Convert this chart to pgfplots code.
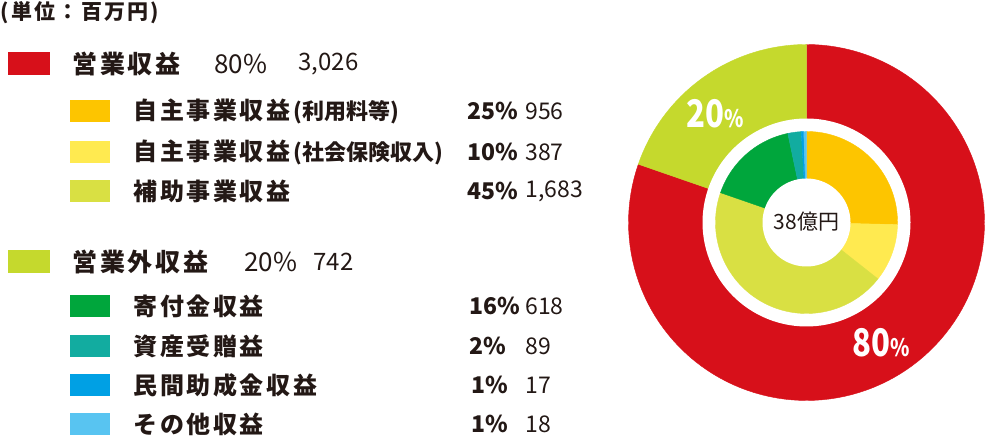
\documentclass[border=0pt]{standalone}
\usepackage{pgfplots}
\usepackage{pgfplotstable}
\usepackage{graphicx}
\usepackage{fontspec}
\pgfplotsset{compat=1.18}
\setmainfont{Noto Sans CJK JP}
\newfontfamily\jp{Noto Sans CJK JP}[LetterSpace=11]
\newfontfamily\jpn{Noto Sans CJK JP}
\definecolor{txt}{HTML}{231815}
\definecolor{cRed}{HTML}{D7101A}
\definecolor{cOuterG}{HTML}{C5D92D}
\definecolor{cOrange}{HTML}{FDC500}
\definecolor{cLYellow}{HTML}{FFEA50}
\definecolor{cYG}{HTML}{D9E043}
\definecolor{cGreen}{HTML}{00A63C}
\definecolor{cTeal}{HTML}{12ACA0}
\definecolor{cBlue}{HTML}{00A0E4}
\definecolor{cLBlue}{HTML}{58C4F1}

\pgfplotstableread{
value color
3026 cRed
742 cOuterG
}\outerdata
\pgfplotstableread{
value color
956 cOrange
387 cLYellow
1683 cYG
618 cGreen
89 cTeal
17 cBlue
18 cLBlue
}\innerdata

\def\total{3768}
\def\cx{806.5}
\def\cy{214.5}

% draw a ring of sectors from a table
\newcommand\drawring[3]{% table, nrows-1, radius
  \def\cum{0}%
  \pgfplotsforeachungrouped \i in {0,...,#2} {%
    \pgfplotstablegetelem{\i}{value}\of#1\let\myval\pgfplotsretval
    \pgfplotstablegetelem{\i}{color}\of#1\let\mycol\pgfplotsretval
    \pgfmathsetmacro\aS{90-360*(\cum/\total)}%
    \pgfmathsetmacro\cum{\cum+\myval}%
    \pgfmathsetmacro\aE{90-360*(\cum/\total)}%
    \edef\temp{\noexpand\addplot[fill=\mycol, draw=\mycol, line width=0.2pt, domain=\aE:\aS, samples=120]
      ({\cx+#3*cos(x)},{\cy+#3*sin(x)}) -- (axis cs:\cx,\cy) -- cycle;}%
    \temp
  }%
}
\newcommand\whitedisk[1]{%
  \addplot[fill=white, draw=none, domain=0:360, samples=150] ({\cx+#1*cos(x)},{\cy+#1*sin(x)}) -- cycle;
}

\begin{document}
\begin{tikzpicture}
\begin{axis}[x=0.5pt, y=0.5pt, xmin=0, xmax=985, ymin=0, ymax=437,
  hide axis, clip=false]
\path (axis cs:0,0) rectangle (axis cs:985,437);

% donut
\drawring{\outerdata}{1}{178}
\whitedisk{104}
\drawring{\innerdata}{6}{91}
\whitedisk{44}

% center + ring labels
\node[text=txt, font=\jpn\fontsize{10.5pt}{12pt}\selectfont] at (axis cs:806.5,215) {38億円};
\node[text=white, anchor=center] at (axis cs:715,323) {\scalebox{0.82}[1]{\jpn\bfseries\fontsize{19pt}{20pt}\selectfont 20}\scalebox{0.82}[1]{\jpn\bfseries\fontsize{12pt}{13pt}\selectfont \%}};
\node[text=white, anchor=center] at (axis cs:881,94) {\scalebox{0.82}[1]{\jpn\bfseries\fontsize{19pt}{20pt}\selectfont 80}\scalebox{0.82}[1]{\jpn\bfseries\fontsize{12pt}{13pt}\selectfont \%}};

% title
\node[text=txt, anchor=west, inner sep=0pt, font=\jp\bfseries\fontsize{10.5pt}{12pt}\selectfont] at (axis cs:0,424) {(単位：百万円)};

% heading 1
\fill[cRed] (axis cs:8,385) rectangle (axis cs:50,362);
\node[text=txt, anchor=west, inner sep=0pt, font=\jp\bfseries\fontsize{12.5pt}{14pt}\selectfont] at (axis cs:72,373) {営業収益};
\node[text=txt, anchor=west, inner sep=0pt, font=\jpn\fontsize{13pt}{14pt}\selectfont] at (axis cs:214,373) {80\%};
\node[text=txt, anchor=west, inner sep=0pt, font=\jpn\fontsize{12pt}{14pt}\selectfont] at (axis cs:298,373) {3,026};

% sub rows 1
\fill[cOrange] (axis cs:70,337) rectangle (axis cs:110,315);
\node[text=txt, anchor=west, inner sep=0pt, font=\jp\bfseries\fontsize{12pt}{14pt}\selectfont] at (axis cs:133,326) {自主事業収益{\jpn\fontsize{11pt}{13pt}\selectfont\hspace{1.5pt}(利用料等)}};
\node[text=txt, anchor=west, inner sep=0pt, font=\jpn\bfseries\fontsize{11.5pt}{14pt}\selectfont] at (axis cs:467,326) {25\%};
\node[text=txt, anchor=west, inner sep=0pt, font=\jpn\fontsize{11.5pt}{14pt}\selectfont] at (axis cs:525,326) {956};

\fill[cLYellow] (axis cs:70,296) rectangle (axis cs:110,274);
\node[text=txt, anchor=west, inner sep=0pt, font=\jp\bfseries\fontsize{12pt}{14pt}\selectfont] at (axis cs:133,285) {自主事業収益{\jpn\fontsize{11pt}{13pt}\selectfont\hspace{1.5pt}(社会保険収入)}};
\node[text=txt, anchor=west, inner sep=0pt, font=\jpn\bfseries\fontsize{11.5pt}{14pt}\selectfont] at (axis cs:467,285) {10\%};
\node[text=txt, anchor=west, inner sep=0pt, font=\jpn\fontsize{11.5pt}{14pt}\selectfont] at (axis cs:525,285) {387};

\fill[cYG] (axis cs:70,257) rectangle (axis cs:110,235);
\node[text=txt, anchor=west, inner sep=0pt, font=\jp\bfseries\fontsize{12pt}{14pt}\selectfont] at (axis cs:133,246) {補助事業収益};
\node[text=txt, anchor=west, inner sep=0pt, font=\jpn\bfseries\fontsize{11.5pt}{14pt}\selectfont] at (axis cs:467,246) {45\%};
\node[text=txt, anchor=west, inner sep=0pt, font=\jpn\fontsize{11.5pt}{14pt}\selectfont] at (axis cs:525,246) {1,683};

% heading 2
\fill[cOuterG] (axis cs:8,187) rectangle (axis cs:50,164);
\node[text=txt, anchor=west, inner sep=0pt, font=\jp\bfseries\fontsize{12.5pt}{14pt}\selectfont] at (axis cs:72,175) {営業外収益};
\node[text=txt, anchor=west, inner sep=0pt, font=\jpn\fontsize{13pt}{14pt}\selectfont] at (axis cs:244,175) {20\%};
\node[text=txt, anchor=west, inner sep=0pt, font=\jpn\fontsize{12pt}{14pt}\selectfont] at (axis cs:313,175) {742};

% sub rows 2
\fill[cGreen] (axis cs:70,142) rectangle (axis cs:110,120);
\node[text=txt, anchor=west, inner sep=0pt, font=\jp\bfseries\fontsize{12pt}{14pt}\selectfont] at (axis cs:133,131) {寄付金収益};
\node[text=txt, anchor=west, inner sep=0pt, font=\jpn\bfseries\fontsize{11.5pt}{14pt}\selectfont] at (axis cs:469,131) {16\%};
\node[text=txt, anchor=west, inner sep=0pt, font=\jpn\fontsize{11.5pt}{14pt}\selectfont] at (axis cs:525,131) {618};

\fill[cTeal] (axis cs:70,102) rectangle (axis cs:110,80);
\node[text=txt, anchor=west, inner sep=0pt, font=\jp\bfseries\fontsize{12pt}{14pt}\selectfont] at (axis cs:133,91) {資産受贈益};
\node[text=txt, anchor=west, inner sep=0pt, font=\jpn\bfseries\fontsize{11.5pt}{14pt}\selectfont] at (axis cs:469,91) {2\%};
\node[text=txt, anchor=west, inner sep=0pt, font=\jpn\fontsize{11.5pt}{14pt}\selectfont] at (axis cs:525,91) {89};

\fill[cBlue] (axis cs:70,63) rectangle (axis cs:110,41);
\node[text=txt, anchor=west, inner sep=0pt, font=\jp\bfseries\fontsize{12pt}{14pt}\selectfont] at (axis cs:133,52) {民間助成金収益};
\node[text=txt, anchor=west, inner sep=0pt, font=\jpn\bfseries\fontsize{11.5pt}{14pt}\selectfont] at (axis cs:471,52) {1\%};
\node[text=txt, anchor=west, inner sep=0pt, font=\jpn\fontsize{11.5pt}{14pt}\selectfont] at (axis cs:525,52) {17};

\fill[cLBlue] (axis cs:70,24) rectangle (axis cs:110,2);
\node[text=txt, anchor=west, inner sep=0pt, font=\jp\bfseries\fontsize{12pt}{14pt}\selectfont] at (axis cs:133,13) {その他収益};
\node[text=txt, anchor=west, inner sep=0pt, font=\jpn\bfseries\fontsize{11.5pt}{14pt}\selectfont] at (axis cs:471,13) {1\%};
\node[text=txt, anchor=west, inner sep=0pt, font=\jpn\fontsize{11.5pt}{14pt}\selectfont] at (axis cs:525,13) {18};
\end{axis}
\end{tikzpicture}
\end{document}
